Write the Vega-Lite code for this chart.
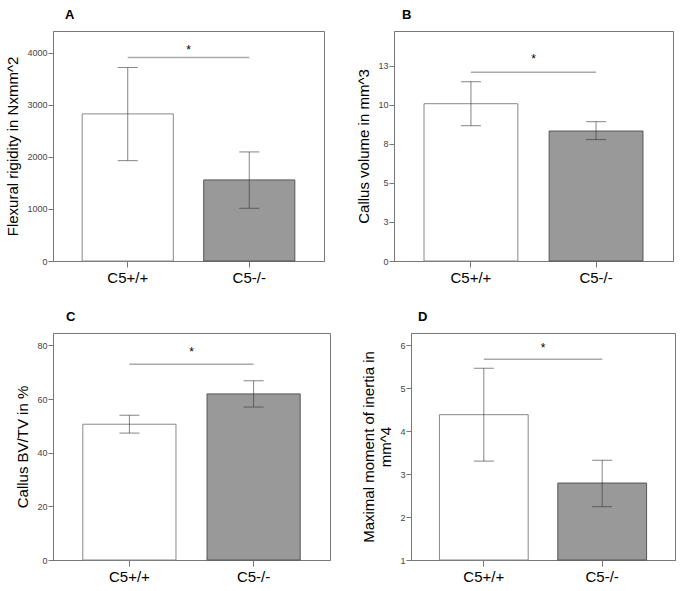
{
  "$schema": "https://vega.github.io/schema/vega-lite/v6.json",
  "background": "white",
  "padding": {"left": 5, "top": 8, "right": 5, "bottom": 5},
  "datasets": {
    "A": [
      {"group": "C5+/+", "mean": 2827, "lo": 1929, "hi": 3718},
      {"group": "C5-/-", "mean": 1558, "lo": 1013, "hi": 2096}
    ],
    "B": [
      {"group": "C5+/+", "mean": 10.08, "lo": 8.67, "hi": 11.49},
      {"group": "C5-/-", "mean": 8.33, "lo": 7.78, "hi": 8.93}
    ],
    "C": [
      {"group": "C5+/+", "mean": 50.6, "lo": 47.3, "hi": 53.95},
      {"group": "C5-/-", "mean": 61.9, "lo": 57.0, "hi": 66.8}
    ],
    "D": [
      {"group": "C5+/+", "mean": 4.38, "lo": 3.30, "hi": 5.46},
      {"group": "C5-/-", "mean": 2.79, "lo": 2.24, "hi": 3.32}
    ],
    "sigA": [{"g1": "C5+/+", "g2": "C5-/-", "y": 3910, "ys": 4060, "star": "*"}],
    "sigB": [{"g1": "C5+/+", "g2": "C5-/-", "y": 12.09, "ys": 12.95, "star": "*"}],
    "sigC": [{"g1": "C5+/+", "g2": "C5-/-", "y": 73.0, "ys": 77.6, "star": "*"}],
    "sigD": [{"g1": "C5+/+", "g2": "C5-/-", "y": 5.67, "ys": 5.93, "star": "*"}]
  },
  "config": {
    "font": "Liberation Sans",
    "view": {"stroke": "#777", "strokeWidth": 1},
    "axis": {"grid": false, "domainColor": "#777", "tickColor": "#777"},
    "axisY": {"labelFontSize": 9, "labelColor": "#444", "tickSize": 5, "labelPadding": 1, "titleFontSize": 15, "titleFontWeight": "normal", "titleColor": "#000", "titlePadding": 6},
    "axisX": {"labelFontSize": 15, "labelColor": "#000", "labelAngle": 0, "tickSize": 6, "labelPadding": 3, "title": null},
    "title": {"fontSize": 13, "fontWeight": "bold", "anchor": "start", "frame": "group", "offset": 9, "color": "#000"},
    "scale": {"bandPaddingInner": 0.25, "bandPaddingOuter": 0.24}
  },
  "spacing": 24,
  "vconcat": [
    {
      "spacing": 31,
      "hconcat": [
        {
          "width": 271, "height": 230,
          "title": {"text": "A", "dx": 12},
          "layer": [
            {"data": {"name": "A"}, "mark": {"type": "bar", "stroke": "#777", "strokeWidth": 1},
              "encoding": {
                "x": {"field": "group", "type": "nominal", "sort": null, "axis": {"title": null}},
                "y": {"field": "mean", "type": "quantitative", "scale": {"domain": [0, 4420], "nice": false}, "axis": {"title": "Flexural rigidity in Nxmm^2", "values": [0, 1000, 2000, 3000, 4000], "format": "d"}},
                "color": {"field": "group", "type": "nominal", "scale": {"domain": ["C5+/+", "C5-/-"], "range": ["#ffffff", "#999999"]}, "legend": null},
                "stroke": {"field": "group", "type": "nominal", "scale": {"domain": ["C5+/+", "C5-/-"], "range": ["#888888", "#555555"]}, "legend": null}
              }},
            {"data": {"name": "A"}, "mark": {"type": "rule", "color": "#333", "opacity": 0.6},
              "encoding": {"x": {"field": "group", "type": "nominal", "sort": null}, "y": {"field": "lo", "type": "quantitative"}, "y2": {"field": "hi"}}},
            {"data": {"name": "A"}, "mark": {"type": "tick", "color": "#333", "opacity": 0.6, "size": 20, "thickness": 1, "orient": "horizontal"},
              "encoding": {"x": {"field": "group", "type": "nominal", "sort": null}, "y": {"field": "lo", "type": "quantitative"}}},
            {"data": {"name": "A"}, "mark": {"type": "tick", "color": "#333", "opacity": 0.6, "size": 20, "thickness": 1, "orient": "horizontal"},
              "encoding": {"x": {"field": "group", "type": "nominal", "sort": null}, "y": {"field": "hi", "type": "quantitative"}}},
            {"data": {"name": "sigA"}, "mark": {"type": "rule", "color": "#aaa", "strokeWidth": 1.5},
              "encoding": {"x": {"field": "g1", "type": "nominal"}, "x2": {"field": "g2"}, "y": {"field": "y", "type": "quantitative"}}},
            {"data": {"name": "sigA"}, "mark": {"type": "text", "fontSize": 12, "color": "#000"},
              "encoding": {"text": {"field": "star"}, "y": {"field": "ys", "type": "quantitative"}}}
          ]
        },
        {
          "width": 279, "height": 230,
          "title": {"text": "B", "dx": 8},
          "layer": [
            {"data": {"name": "B"}, "mark": {"type": "bar", "stroke": "#777", "strokeWidth": 1},
              "encoding": {
                "x": {"field": "group", "type": "nominal", "sort": null, "axis": {"title": null}},
                "y": {"field": "mean", "type": "quantitative", "scale": {"domain": [0, 14.74], "nice": false}, "axis": {"title": "Callus volume in mm^3", "values": [0, 2.5, 5, 7.5, 10, 12.5], "format": ".0f"}},
                "color": {"field": "group", "type": "nominal", "scale": {"domain": ["C5+/+", "C5-/-"], "range": ["#ffffff", "#999999"]}, "legend": null},
                "stroke": {"field": "group", "type": "nominal", "scale": {"domain": ["C5+/+", "C5-/-"], "range": ["#888888", "#555555"]}, "legend": null}
              }},
            {"data": {"name": "B"}, "mark": {"type": "rule", "color": "#333", "opacity": 0.6},
              "encoding": {"x": {"field": "group", "type": "nominal", "sort": null}, "y": {"field": "lo", "type": "quantitative"}, "y2": {"field": "hi"}}},
            {"data": {"name": "B"}, "mark": {"type": "tick", "color": "#333", "opacity": 0.6, "size": 20, "thickness": 1, "orient": "horizontal"},
              "encoding": {"x": {"field": "group", "type": "nominal", "sort": null}, "y": {"field": "lo", "type": "quantitative"}}},
            {"data": {"name": "B"}, "mark": {"type": "tick", "color": "#333", "opacity": 0.6, "size": 20, "thickness": 1, "orient": "horizontal"},
              "encoding": {"x": {"field": "group", "type": "nominal", "sort": null}, "y": {"field": "hi", "type": "quantitative"}}},
            {"data": {"name": "sigB"}, "mark": {"type": "rule", "color": "#aaa", "strokeWidth": 1.5},
              "encoding": {"x": {"field": "g1", "type": "nominal"}, "x2": {"field": "g2"}, "y": {"field": "y", "type": "quantitative"}}},
            {"data": {"name": "sigB"}, "mark": {"type": "text", "fontSize": 12, "color": "#000"},
              "encoding": {"text": {"field": "star"}, "y": {"field": "ys", "type": "quantitative"}}}
          ]
        }
      ]
    },
    {
      "spacing": 30,
      "hconcat": [
        {
          "width": 277, "height": 227,
          "title": {"text": "C", "dx": 13},
          "layer": [
            {"data": {"name": "C"}, "mark": {"type": "bar", "stroke": "#777", "strokeWidth": 1},
              "encoding": {
                "x": {"field": "group", "type": "nominal", "sort": null, "axis": {"title": null}},
                "y": {"field": "mean", "type": "quantitative", "scale": {"domain": [0, 84.6], "nice": false}, "axis": {"title": "Callus BV/TV in %", "values": [0, 20, 40, 60, 80]}},
                "color": {"field": "group", "type": "nominal", "scale": {"domain": ["C5+/+", "C5-/-"], "range": ["#ffffff", "#999999"]}, "legend": null},
                "stroke": {"field": "group", "type": "nominal", "scale": {"domain": ["C5+/+", "C5-/-"], "range": ["#888888", "#555555"]}, "legend": null}
              }},
            {"data": {"name": "C"}, "mark": {"type": "rule", "color": "#333", "opacity": 0.6},
              "encoding": {"x": {"field": "group", "type": "nominal", "sort": null}, "y": {"field": "lo", "type": "quantitative"}, "y2": {"field": "hi"}}},
            {"data": {"name": "C"}, "mark": {"type": "tick", "color": "#333", "opacity": 0.6, "size": 20, "thickness": 1, "orient": "horizontal"},
              "encoding": {"x": {"field": "group", "type": "nominal", "sort": null}, "y": {"field": "lo", "type": "quantitative"}}},
            {"data": {"name": "C"}, "mark": {"type": "tick", "color": "#333", "opacity": 0.6, "size": 20, "thickness": 1, "orient": "horizontal"},
              "encoding": {"x": {"field": "group", "type": "nominal", "sort": null}, "y": {"field": "hi", "type": "quantitative"}}},
            {"data": {"name": "sigC"}, "mark": {"type": "rule", "color": "#aaa", "strokeWidth": 1.5},
              "encoding": {"x": {"field": "g1", "type": "nominal"}, "x2": {"field": "g2"}, "y": {"field": "y", "type": "quantitative"}}},
            {"data": {"name": "sigC"}, "mark": {"type": "text", "fontSize": 12, "color": "#000"},
              "encoding": {"text": {"field": "star"}, "y": {"field": "ys", "type": "quantitative"}}}
          ]
        },
        {
          "width": 264, "height": 227,
          "title": {"text": "D", "dx": 7},
          "layer": [
            {"data": {"name": "D"}, "mark": {"type": "bar", "stroke": "#777", "strokeWidth": 1},
              "encoding": {
                "x": {"field": "group", "type": "nominal", "sort": null, "axis": {"title": null}},
                "y": {"field": "mean", "type": "quantitative", "scale": {"domain": [1, 6.28], "nice": false, "zero": false}, "axis": {"title": ["Maximal moment of inertia in", "mm^4"], "values": [1, 2, 3, 4, 5, 6]}},
                "y2": {"datum": 1},
                "color": {"field": "group", "type": "nominal", "scale": {"domain": ["C5+/+", "C5-/-"], "range": ["#ffffff", "#999999"]}, "legend": null},
                "stroke": {"field": "group", "type": "nominal", "scale": {"domain": ["C5+/+", "C5-/-"], "range": ["#888888", "#555555"]}, "legend": null}
              }},
            {"data": {"name": "D"}, "mark": {"type": "rule", "color": "#333", "opacity": 0.6},
              "encoding": {"x": {"field": "group", "type": "nominal", "sort": null}, "y": {"field": "lo", "type": "quantitative"}, "y2": {"field": "hi"}}},
            {"data": {"name": "D"}, "mark": {"type": "tick", "color": "#333", "opacity": 0.6, "size": 20, "thickness": 1, "orient": "horizontal"},
              "encoding": {"x": {"field": "group", "type": "nominal", "sort": null}, "y": {"field": "lo", "type": "quantitative"}}},
            {"data": {"name": "D"}, "mark": {"type": "tick", "color": "#333", "opacity": 0.6, "size": 20, "thickness": 1, "orient": "horizontal"},
              "encoding": {"x": {"field": "group", "type": "nominal", "sort": null}, "y": {"field": "hi", "type": "quantitative"}}},
            {"data": {"name": "sigD"}, "mark": {"type": "rule", "color": "#aaa", "strokeWidth": 1.5},
              "encoding": {"x": {"field": "g1", "type": "nominal"}, "x2": {"field": "g2"}, "y": {"field": "y", "type": "quantitative"}}},
            {"data": {"name": "sigD"}, "mark": {"type": "text", "fontSize": 12, "color": "#000"},
              "encoding": {"text": {"field": "star"}, "y": {"field": "ys", "type": "quantitative"}}}
          ]
        }
      ]
    }
  ]
}
